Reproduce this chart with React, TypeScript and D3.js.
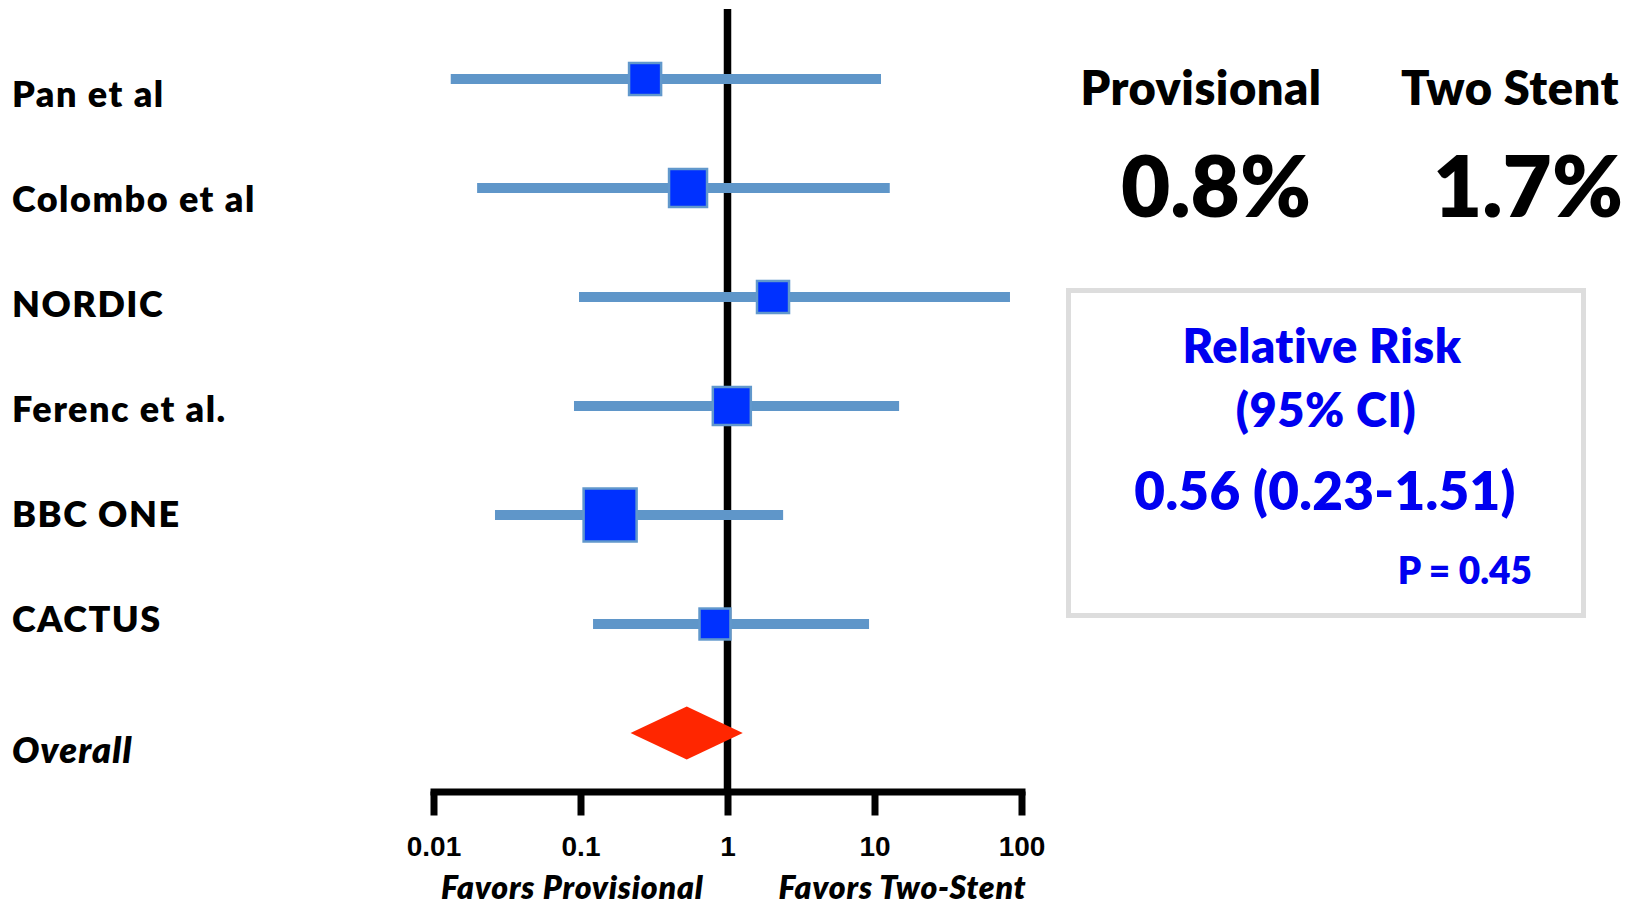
import { useEffect, useRef } from 'react';
import * as d3 from 'd3';

// study rows
const studies = ['Pan et al', 'Colombo et al', 'NORDIC', 'Ferenc et al.', 'BBC ONE', 'CACTUS'];
const riskRatio = [0.275, 0.539, 2.04, 1.07, 0.159, 0.822];
const ciLower = [0.0131, 0.0198, 0.0977, 0.0903, 0.0262, 0.1217];
const ciUpper = [11.07, 12.7, 83.5, 14.7, 2.39, 9.18];
const weightPct = [11.8, 16.6, 11.8, 16.6, 32.3, 11.0];

const overallLabel = 'Overall';
const overallRR = 0.528;
const overallLower = 0.219;
const overallUpper = 1.27;

const axisTicks = [0.01, 0.1, 1, 10, 100];
const tickLabels = ['0.01', '0.1', '1', '10', '100'];
const favorsLabels = ['Favors Provisional', 'Favors Two-Stent'];

const groupNames = ['Provisional', 'Two Stent'];
const eventRates = ['0.8%', '1.7%'];
const rrTitle = ['Relative Risk', '(95% CI)'];
const rrValue = '0.56 (0.23-1.51)';
const pValue = 'P = 0.45';

const W = 1637;
const H = 908;

export default function App() {
  const svgRef = useRef<SVGSVGElement | null>(null);

  useEffect(() => {
    if (!svgRef.current) return;
    const svg = d3.select(svgRef.current);
    svg.selectAll('*').remove();

    const x = d3.scaleLog().domain([0.01, 100]).range([433.5, 1021.5]);
    const rowY = d3.scaleLinear().domain([0, 6]).range([79, 733]);
    const labelY = d3.scaleLinear().domain([0, 5]).range([107, 632]);
    const side = d3.scaleSqrt().domain([0, d3.max(weightPct) || 1]).range([0, 53]);
    const axisY = 791.5;

    const labelFont = 'Lato, "Open Sans", sans-serif';

    // study names
    svg.append('g')
      .selectAll('text')
      .data(studies)
      .join('text')
      .attr('x', 12)
      .attr('y', (_, i) => labelY(i))
      .attr('font-family', labelFont)
      .attr('font-weight', 800)
      .attr('font-size', 36)
      .attr('letter-spacing', 1.5)
      .attr('fill', '#000')
      .text(d => d);

    svg.append('text')
      .attr('x', 12)
      .attr('y', 763)
      .attr('font-family', labelFont)
      .attr('font-weight', 800)
      .attr('font-style', 'italic')
      .attr('font-size', 36)
      .attr('letter-spacing', 1.2)
      .text(overallLabel);

    // line of no effect
    svg.append('line')
      .attr('x1', x(1)).attr('x2', x(1))
      .attr('y1', 9).attr('y2', axisY)
      .attr('stroke', '#000')
      .attr('stroke-width', 7.5);

    // CI bars
    svg.append('g')
      .selectAll('line')
      .data(studies)
      .join('line')
      .attr('x1', (_, i) => x(ciLower[i]))
      .attr('x2', (_, i) => x(ciUpper[i]))
      .attr('y1', (_, i) => rowY(i))
      .attr('y2', (_, i) => rowY(i))
      .attr('stroke', '#5f96c9')
      .attr('stroke-width', 10);

    // point estimates
    svg.append('g')
      .selectAll('rect')
      .data(studies)
      .join('rect')
      .attr('x', (_, i) => x(riskRatio[i]) - side(weightPct[i]) / 2)
      .attr('y', (_, i) => rowY(i) - side(weightPct[i]) / 2)
      .attr('width', (_, i) => side(weightPct[i]))
      .attr('height', (_, i) => side(weightPct[i]))
      .attr('fill', '#0031ff')
      .attr('stroke', '#6198cc')
      .attr('stroke-width', 2.5);

    // pooled diamond
    const dy = rowY(6);
    const halfH = 26.5;
    svg.append('polygon')
      .attr('points', [
        [x(overallLower), dy],
        [x(overallRR), dy - halfH],
        [x(overallUpper), dy],
        [x(overallRR), dy + halfH],
      ].map(p => p.join(',')).join(' '))
      .attr('fill', '#ff2600');

    // log axis
    const axis = svg.append('g')
      .attr('transform', `translate(0,${axisY})`)
      .call(
        d3.axisBottom(x)
          .tickValues(axisTicks)
          .tickFormat((_, i) => tickLabels[i])
          .tickSize(24)
          .tickSizeOuter(0)
      );
    axis.select('.domain')
      .attr('stroke', '#000')
      .attr('stroke-width', 7)
      .attr('stroke-linecap', 'square');
    axis.selectAll('.tick line')
      .attr('stroke', '#000')
      .attr('stroke-width', 7);
    axis.selectAll('.tick text')
      .attr('y', 64.5)
      .attr('dy', 0)
      .attr('fill', '#000')
      .attr('font-family', '"Liberation Sans", Arial, sans-serif')
      .attr('font-weight', 700)
      .attr('font-size', 28);

    svg.append('text')
      .attr('x', x(1) - 24)
      .attr('y', 899)
      .attr('text-anchor', 'end')
      .attr('font-family', labelFont)
      .attr('font-weight', 800)
      .attr('font-style', 'italic')
      .attr('font-size', 32)
      .attr('letter-spacing', 0.8)
      .text(favorsLabels[0]);
    svg.append('text')
      .attr('x', x(1) + 51)
      .attr('y', 899)
      .attr('font-family', labelFont)
      .attr('font-weight', 800)
      .attr('font-style', 'italic')
      .attr('font-size', 32)
      .attr('letter-spacing', 0.8)
      .text(favorsLabels[1]);

    // event rates on the right
    const groupX = [1201, 1510];
    const rateX = [1216, 1528];
    svg.append('g')
      .selectAll('text')
      .data(groupNames)
      .join('text')
      .attr('x', (_, i) => groupX[i])
      .attr('y', 105)
      .attr('text-anchor', 'middle')
      .attr('font-family', labelFont)
      .attr('font-weight', 800)
      .attr('font-size', 47)
      .attr('letter-spacing', 0.5)
      .text(d => d);
    svg.append('g')
      .selectAll('text')
      .data(eventRates)
      .join('text')
      .attr('x', (_, i) => rateX[i])
      .attr('y', 217)
      .attr('text-anchor', 'middle')
      .attr('font-family', labelFont)
      .attr('font-weight', 800)
      .attr('font-size', 85)
      .text(d => d);

    // relative risk box
    svg.append('rect')
      .attr('x', 1068.5)
      .attr('y', 290.5)
      .attr('width', 515)
      .attr('height', 325)
      .attr('fill', 'none')
      .attr('stroke', '#dddddd')
      .attr('stroke-width', 5);

    const blue = '#0000f0';
    svg.append('g')
      .selectAll('text')
      .data(rrTitle)
      .join('text')
      .attr('x', (_, i) => (i === 0 ? 1322 : 1326))
      .attr('y', (_, i) => 363 + i * 64)
      .attr('text-anchor', 'middle')
      .attr('font-family', labelFont)
      .attr('font-weight', 800)
      .attr('font-size', 47)
      .attr('letter-spacing', 0.5)
      .attr('fill', blue)
      .text(d => d);
    svg.append('text')
      .attr('x', 1325)
      .attr('y', 510)
      .attr('text-anchor', 'middle')
      .attr('font-family', labelFont)
      .attr('font-weight', 800)
      .attr('font-size', 53)
      .attr('letter-spacing', 0.3)
      .attr('fill', blue)
      .text(rrValue);
    svg.append('text')
      .attr('x', 1532)
      .attr('y', 584)
      .attr('text-anchor', 'end')
      .attr('font-family', labelFont)
      .attr('font-weight', 800)
      .attr('font-size', 37)
      .attr('fill', blue)
      .text(pValue);
  }, []);

  return (
    <svg
      ref={svgRef}
      width={W}
      height={H}
      style={{ position: 'absolute', left: 0, top: 0, display: 'block', background: '#fff' }}
    />
  );
}
